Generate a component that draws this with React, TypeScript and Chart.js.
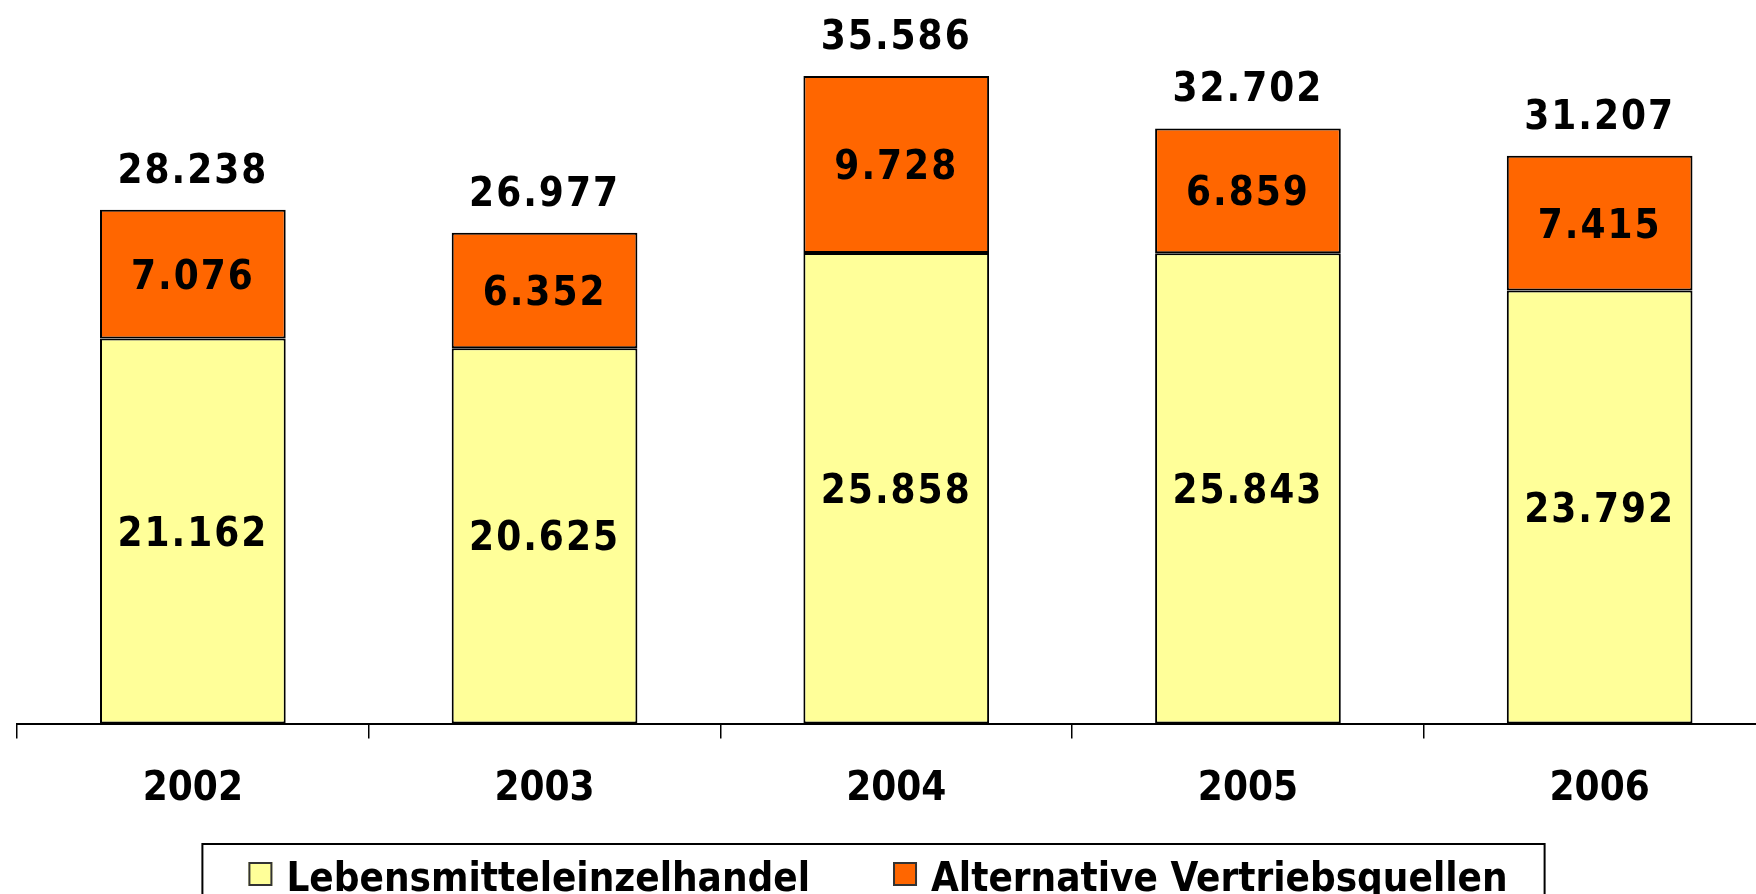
import React, { useEffect, useRef } from "react";
import { Chart, registerables } from "chart.js";

Chart.register(...registerables);

const categories = ["2002", "2003", "2004", "2005", "2006"];
const lebensmittel = [21162, 20625, 25858, 25843, 23792];
const alternative = [7076, 6352, 9728, 6859, 7415];
const seriesNames = ["Lebensmitteleinzelhandel", "Alternative Vertriebsquellen"];
const seriesColors = ["#FFFF99", "#FF6600"];

const FONT = "'DejaVu Sans Condensed', 'DejaVu Sans', sans-serif";

const fmt = (n: number) => String(n).replace(/\B(?=(\d{3})+(?!\d))/g, ".");

const labelsPlugin = {
  id: "valueLabels",
  afterDatasetsDraw(chart: any) {
    const ctx = chart.ctx;
    ctx.save();
    ctx.font = `bold 40px ${FONT}`;
    (ctx as any).letterSpacing = "2px";
    ctx.fillStyle = "#000";
    ctx.textAlign = "center";
    ctx.textBaseline = "alphabetic";
    const capHalf = 40 * 0.3645;
    const n = chart.data.labels.length;
    const tops: number[] = new Array(n).fill(Infinity);
    const totals: number[] = new Array(n).fill(0);
    chart.data.datasets.forEach((ds: any, i: number) => {
      const meta = chart.getDatasetMeta(i);
      meta.data.forEach((bar: any, j: number) => {
        const p = bar.getProps(["x", "y", "base"], true);
        const v = ds.data[j];
        totals[j] += v;
        tops[j] = Math.min(tops[j], p.y, p.base);
        ctx.fillText(fmt(v), p.x, (p.y + p.base) / 2 + capHalf);
      });
    });
    const meta0 = chart.getDatasetMeta(0);
    meta0.data.forEach((bar: any, j: number) => {
      const p = bar.getProps(["x"], true);
      ctx.fillText(fmt(totals[j]), p.x, tops[j] - 41.7 + capHalf);
    });
    ctx.restore();
  },
};

const legendPlugin = {
  id: "boxedLegend",
  afterDraw(chart: any) {
    const ctx = chart.ctx;
    ctx.save();
    ctx.font = `bold 40px ${FONT}`;
    const names = chart.data.datasets.map((d: any) => d.label);
    const widths = names.map((t: string) => ctx.measureText(t).width);
    const sq = 24;
    const gapText = 14;
    const gapItems = 83;
    const padL = 46;
    const padR = 37;
    const inner = widths.reduce((a: number, w: number) => a + sq + gapText + w, 0) + gapItems * (names.length - 1);
    const total = padL + inner + padR;
    const center = 873.5;
    const left = center - total / 2;
    const top = 844;
    ctx.lineWidth = 2;
    ctx.strokeStyle = "#000";
    ctx.strokeRect(left, top, total, 120);
    let x = left + padL;
    names.forEach((t: string, i: number) => {
      const ds = chart.data.datasets[i];
      ctx.fillStyle = ds.backgroundColor;
      ctx.fillRect(x, 862, sq, sq);
      ctx.strokeStyle = "#333";
      ctx.lineWidth = 2;
      ctx.strokeRect(x + 1, 863, sq - 2, sq - 2);
      ctx.fillStyle = "#000";
      ctx.textAlign = "left";
      ctx.textBaseline = "alphabetic";
      ctx.fillText(t, x + sq + gapText, 891);
      x += sq + gapText + widths[i] + gapItems;
    });
    ctx.restore();
  },
};

export default function App() {
  const ref = useRef<HTMLCanvasElement | null>(null);
  useEffect(() => {
    if (!ref.current) return;
    const chart = new Chart(ref.current, {
      type: "bar",
      data: {
        labels: categories,
        datasets: [
          {
            label: seriesNames[0],
            data: lebensmittel,
            backgroundColor: seriesColors[0],
            borderColor: "#000",
            borderWidth: 2,
            borderSkipped: false,
            categoryPercentage: 1,
            barPercentage: 0.528,
          },
          {
            label: seriesNames[1],
            data: alternative,
            backgroundColor: seriesColors[1],
            borderColor: "#000",
            borderWidth: 2,
            borderSkipped: false,
            categoryPercentage: 1,
            barPercentage: 0.528,
          },
        ],
      },
      options: {
        responsive: false,
        animation: false,
        devicePixelRatio: 1,
        layout: { padding: { left: 17, right: 0.5, top: 0, bottom: 53.5 } },
        plugins: {
          legend: { display: false },
          tooltip: { enabled: false },
        },
        scales: {
          x: {
            stacked: true,
            offset: true,
            grid: {
              offset: true,
              drawOnChartArea: false,
              drawTicks: true,
              tickLength: 15,
              color: "#000",
              tickColor: "#000",
              lineWidth: 1.5,
            },
            border: { display: true, color: "#000", width: 2 },
            ticks: {
              color: "#000",
              padding: 27,
              font: { family: FONT, size: 40, weight: "bold" },
            },
          },
          y: {
            stacked: true,
            display: false,
            min: 0,
            max: 39763,
          },
        },
      },
      plugins: [labelsPlugin, legendPlugin],
    });
    return () => chart.destroy();
  }, []);
  return (
    <div
      style={{
        position: "fixed",
        left: 0,
        top: 0,
        width: 1756,
        height: 894,
        overflow: "hidden",
        background: "#fff",
      }}
    >
      <canvas ref={ref} width={1776} height={894} style={{ display: "block", width: 1776, height: 894 }} />
    </div>
  );
}
